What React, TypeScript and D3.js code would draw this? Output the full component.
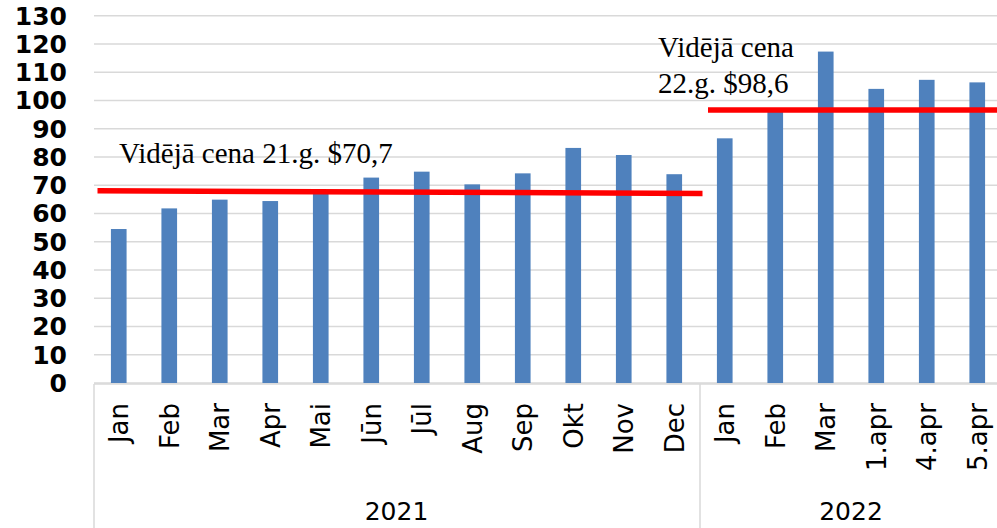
import React from "react";
import * as d3 from "d3";

const categories = ["Jan","Feb","Mar","Apr","Mai","Jūn","Jūl","Aug","Sep","Okt","Nov","Dec","Jan","Feb","Mar","1.apr","4.apr","5.apr"];
const keys = categories.map((c, i) => `${i}`);
const values = [54.5, 61.8, 64.9, 64.4, 67.3, 72.7, 74.8, 70.3, 74.2, 83.2, 80.7, 73.9, 86.6, 96.2, 117.3, 104.1, 107.3, 106.4];
const groups = [
  { label: "2021", from: 0, to: 12 },
  { label: "2022", from: 12, to: 18 },
];
const yTicks = [0,10,20,30,40,50,60,70,80,90,100,110,120,130];
// average lines: [startIndex, endIndex, startValue, endValue]
const avgLines = [
  { from: 0, to: 12, v0: 68.0, v1: 67.1 },
  { from: 12, to: 18, v0: 96.6, v1: 96.6 },
];
const annot1 = ["Vidējā cena 21.g. $70,7"];
const annot2 = ["Vidējā cena", "22.g. $98,6"];

const W = 997, H = 528;

export default function App() {
  const x = d3.scaleBand<string>().domain(keys).range([93.5, 1002.5]).paddingInner(0).paddingOuter(0);
  const y = d3.scaleLinear().domain([0, 130]).range([383, 15.7]);
  const bw = x.bandwidth() * 0.31;
  const step = x.step();
  const xAt = (i: number) => 93.5 + i * step;
  const sans = "Verdana, 'DejaVu Sans', sans-serif";
  const serif = "'Liberation Serif', 'Times New Roman', serif";
  const grid = "#d9d9d9";
  return (
    <svg width={W} height={H} style={{ position: "absolute", left: 0, top: 0, background: "#fff" }}>
      {yTicks.map(t => (
        <g key={t}>
          <line x1={94} x2={W} y1={y(t)} y2={y(t)} stroke={grid} strokeWidth={1.5} />
          <text x={67} y={y(t)} dy="0.36em" textAnchor="end" fontFamily={sans} fontWeight="bold" fontSize={25} fill="#000">{t}</text>
        </g>
      ))}
      {values.map((v, i) => (
        <rect key={i} x={(x(keys[i]) as number) + (step - bw) / 2} y={y(v)} width={bw} height={y(0) - y(v)} fill="#4f81bd" />
      ))}
      <line x1={94} x2={W} y1={384} y2={384} stroke={grid} strokeWidth={1.5} />
      {[0, 12].map(i => (
        <line key={i} x1={xAt(i) + 0.5} x2={xAt(i) + 0.5} y1={384} y2={H} stroke={grid} strokeWidth={1.5} />
      ))}
      {categories.map((c, i) => (
        <text key={i} transform={`translate(${(x(keys[i]) as number) + step / 2},403) rotate(-90)`} dy="0.36em" textAnchor="end" fontFamily={sans} fontSize={26} fill="#000">{c}</text>
      ))}
      {groups.map(g => (
        <text key={g.label} x={(xAt(g.from) + xAt(g.to)) / 2} y={520} textAnchor="middle" fontFamily={sans} fontSize={25} fill="#000">{g.label}</text>
      ))}
      {avgLines.map((l, i) => (
        <line key={i} x1={xAt(l.from) + (i === 0 ? 4 : 8.5)} x2={i === 0 ? xAt(l.to) + 3 : W} y1={y(l.v0)} y2={y(l.v1)} stroke="#ff0000" strokeWidth={5.5} />
      ))}
      {annot1.map((t, i) => (
        <text key={i} x={119} y={163} fontFamily={serif} fontSize={29} fill="#000">{t}</text>
      ))}
      {annot2.map((t, i) => (
        <text key={i} x={658} y={57 + i * 36} fontFamily={serif} fontSize={29} fill="#000">{t}</text>
      ))}
    </svg>
  );
}
